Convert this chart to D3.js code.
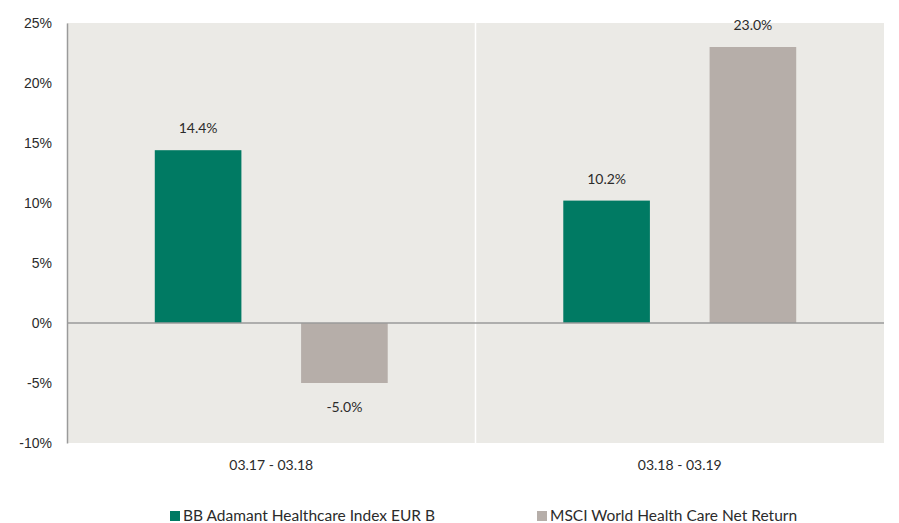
<!DOCTYPE html>
<html>
<head>
<meta charset="utf-8">
<script src="https://cdnjs.cloudflare.com/ajax/libs/d3/7.8.5/d3.min.js"></script>
<style>
body{margin:0;padding:0;background:#fff;font-family:Lato,sans-serif;}
svg text{fill:#2b2b2b;font-size:14px;}
</style>
</head>
<body>
<div id="chart"></div>
<script>
var periods = ["03.17 - 03.18", "03.18 - 03.19"];
var seriesNames = ["BB Adamant Healthcare Index EUR B", "MSCI World Health Care Net Return"];
var fundValues = [14.4, 10.2];
var indexValues = [-5.0, 23.0];
var yTicks = [-10, -5, 0, 5, 10, 15, 20, 25];
var colors = ["#007a63", "#b6aea9"];

var W = 899, H = 523, m = {top: 23, right: 15, bottom: 80, left: 67};
var svg = d3.select("#chart").append("svg").attr("width", W).attr("height", H);
var g = svg.append("g").attr("transform", "translate(" + m.left + "," + m.top + ")");
var w = W - m.left - m.right, h = H - m.top - m.bottom;

var x = d3.scaleBand().domain(periods).range([0, w]);
var y = d3.scaleLinear().domain([-10, 25]).range([h, 0]);
var xs = d3.scaleBand().domain([0, 1]).range([0, x.bandwidth()]).paddingInner(0.408).paddingOuter(0.6);

g.append("rect").attr("width", w).attr("height", h).attr("fill", "#ebeae6");

// white separators between groups
g.selectAll(".sep").data(periods.slice(1)).enter().append("line")
    .attr("x1", function(d){return x(d);}).attr("x2", function(d){return x(d);})
    .attr("y1", 0).attr("y2", h).attr("stroke", "#fff").attr("stroke-width", 1.5);

var data = [];
periods.forEach(function(p, i){
    data.push({p: p, s: 0, v: fundValues[i]});
    data.push({p: p, s: 1, v: indexValues[i]});
});

g.selectAll(".bar").data(data).enter().append("rect")
    .attr("x", function(d){return x(d.p) + xs(d.s);})
    .attr("width", xs.bandwidth())
    .attr("y", function(d){return y(Math.max(0, d.v));})
    .attr("height", function(d){return Math.abs(y(d.v) - y(0));})
    .attr("fill", function(d){return colors[d.s];});

g.selectAll(".lbl").data(data).enter().append("text")
    .attr("x", function(d){return x(d.p) + xs(d.s) + xs.bandwidth()/2;})
    .attr("y", function(d){return d.v >= 0 ? y(d.v) - 17 : y(d.v) + 29;})
    .attr("text-anchor", "middle")
    .text(function(d){return d.v.toFixed(1) + "%";});

// zero line
g.append("line").attr("x1", 0).attr("x2", w).attr("y1", y(0)).attr("y2", y(0))
    .attr("stroke", "#9a9a9a").attr("stroke-width", 1.5);

// y axis
var ya = g.append("g").call(d3.axisLeft(y).tickValues(yTicks).tickSize(0).tickPadding(15)
    .tickFormat(function(d){return d + "%";}));
ya.select(".domain").attr("stroke", "#9a9a9a").attr("stroke-width", 1.5);
ya.selectAll("text").attr("font-size", null).attr("font-family", null).attr("fill", null).attr("dy", "0.35em");

// x axis labels
g.selectAll(".cat").data(periods).enter().append("text")
    .attr("x", function(d){return x(d) + x.bandwidth()/2;})
    .attr("y", h + 27).attr("text-anchor", "middle").text(function(d){return d;});

// legend
var legX = [170, 537];
var lg = svg.selectAll(".leg").data(seriesNames).enter().append("g")
    .attr("transform", function(d, i){return "translate(" + legX[i] + "," + 511 + ")";});
lg.append("rect").attr("width", 10).attr("height", 10).attr("y", 0)
    .attr("fill", function(d, i){return colors[i];});
lg.append("text").attr("x", 13).attr("y", 10).style("font-size", "15.5px").text(function(d){return d;});
</script>
</body>
</html>
